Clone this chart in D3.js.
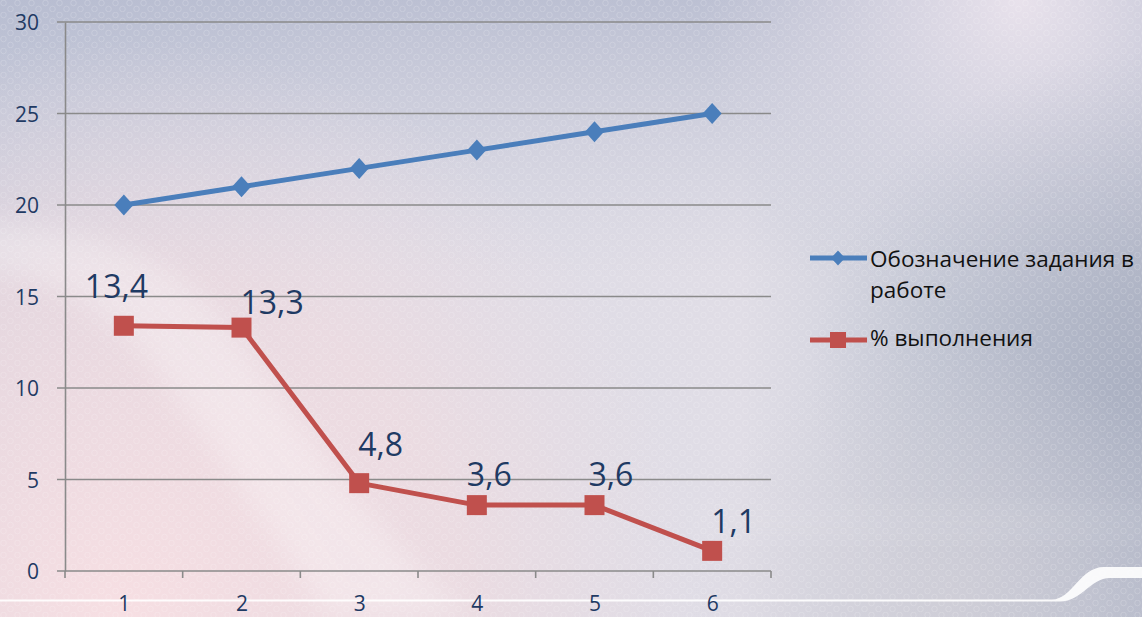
<!DOCTYPE html>
<html>
<head>
<meta charset="utf-8">
<script src="https://cdn.jsdelivr.net/npm/d3@7"></script>
<style>
  html, body { margin: 0; padding: 0; overflow: hidden; background: #d6d6e0; }
  svg { display: block; }
</style>
</head>
<body>
<svg id="chart" width="1142" height="617"></svg>
<script>
// ---- data ----
const categories = ["1", "2", "3", "4", "5", "6"];
const taskDesignation = [20, 21, 22, 23, 24, 25];
const completionPct = [13.4, 13.3, 4.8, 3.6, 3.6, 1.1];
const yTicks = [0, 5, 10, 15, 20, 25, 30];
const seriesNames = ["Обозначение задания в работе", "% выполнения"];

// hand-placed offsets of the value labels from their markers: [dx to text start, dy to baseline]
const labelNudges = [[-39, -28], [-1, -14], [-1, -27], [-10, -19], [-6, -19], [-1, -18]];

// ---- layout ----
const W = 1142, H = 617;
const plot = { left: 65, right: 771, top: 22, bottom: 571 };
const blue = "#4a7ebb", red = "#c0504d", grid = "#8a8a8a", navy = "#1f3a63";
const font = "'Open Sans', 'DejaVu Sans', sans-serif";

const svg = d3.select("#chart");
const defs = svg.append("defs");

function linGrad(id, x1, y1, x2, y2, stops) {
  const g = defs.append("linearGradient").attr("id", id)
    .attr("x1", x1).attr("y1", y1).attr("x2", x2).attr("y2", y2);
  stops.forEach(s => g.append("stop").attr("offset", s[0]).attr("stop-color", s[1]).attr("stop-opacity", s[2] ?? 1));
}
function radGrad(id, cx, cy, r, stops) {
  const g = defs.append("radialGradient").attr("id", id).attr("gradientUnits", "userSpaceOnUse")
    .attr("cx", cx).attr("cy", cy).attr("r", r);
  stops.forEach(s => g.append("stop").attr("offset", s[0]).attr("stop-color", s[1]).attr("stop-opacity", s[2] ?? 1));
}

// ---- slide background ----
linGrad("bgBase", 0, 0, 1, 0, [
  [0, "#cbcedd"], [0.3, "#dedbe5"], [0.65, "#e0dde6"], [0.82, "#cacdd9"], [1, "#b6bbcb"]
]);
linGrad("bgTop", 0, 0, 0, 1, [[0, "#b3b9ce", 0.8], [0.45, "#c4c8d8", 0]]);
radGrad("bgPink", 120, 617, 580, [[0, "#f7dfe3", 1], [0.6, "#f0dbe0", 0.7], [1, "#ecdde3", 0]]);
radGrad("bgTopRight", 1020, 0, 320, [[0, "#eee6ef", 0.9], [1, "#e6e0ea", 0]]);
radGrad("bgRight", 1142, 380, 330, [[0, "#a7adbf", 0.85], [1, "#b4b9c9", 0]]);
radGrad("bgBottomRight", 950, 600, 260, [[0, "#d3d0d8", 0.7], [1, "#d3d0d8", 0]]);

const pat = defs.append("pattern").attr("id", "dots").attr("patternUnits", "userSpaceOnUse")
  .attr("width", 14).attr("height", 12);
pat.append("circle").attr("cx", 3.5).attr("cy", 3).attr("r", 2.8)
  .attr("fill", "none").attr("stroke", "#ffffff").attr("stroke-width", 1).attr("stroke-opacity", 0.16);
pat.append("circle").attr("cx", 10.5).attr("cy", 9).attr("r", 2.8)
  .attr("fill", "none").attr("stroke", "#ffffff").attr("stroke-width", 1).attr("stroke-opacity", 0.16);

defs.append("filter").attr("id", "soft").attr("x", "-20%").attr("y", "-20%").attr("width", "140%").attr("height", "140%")
  .append("feGaussianBlur").attr("stdDeviation", 14);

const bg = svg.append("g").attr("class", "background");
bg.append("rect").attr("width", W).attr("height", H).attr("fill", "url(#bgBase)");
bg.append("rect").attr("width", W).attr("height", H).attr("fill", "url(#bgTop)");
bg.append("rect").attr("width", W).attr("height", H).attr("fill", "url(#bgTopRight)");
bg.append("rect").attr("width", W).attr("height", H).attr("fill", "url(#bgRight)");
bg.append("rect").attr("width", W).attr("height", H).attr("fill", "url(#bgPink)");
bg.append("rect").attr("width", W).attr("height", H).attr("fill", "url(#bgBottomRight)");
// pale sweeping band across the lower left
bg.append("path")
  .attr("d", "M-40,225 C80,222 170,250 230,330 C290,410 360,520 470,617 L330,617 C260,520 200,420 140,350 C90,295 30,270 -40,268 Z")
  .attr("fill", "#ffffff").attr("opacity", 0.28).attr("filter", "url(#soft)");
// faint light strip on the right
bg.append("rect").attr("x", 700).attr("y", 506).attr("width", 460).attr("height", 34)
  .attr("fill", "#ffffff").attr("opacity", 0.06).attr("filter", "url(#soft)");
bg.append("rect").attr("width", W).attr("height", H).attr("fill", "url(#dots)");
// white rule along the bottom rising into a bar on the right
bg.append("path")
  .attr("d", "M0,599.5 L1052,599.5 C1072,599.5 1080,567 1104,567 L1142,567 L1142,578 L1110,578 C1090,578 1082,601.5 1060,601.5 L0,601.5 Z")
  .attr("fill", "#ffffff").attr("opacity", 0.9);

// ---- scales ----
const x = d3.scalePoint().domain(categories).range([plot.left, plot.right]).padding(0.5);
const band = d3.scaleBand().domain(categories).range([plot.left, plot.right]);
const y = d3.scaleLinear().domain([0, 30]).range([plot.bottom, plot.top]);

// ---- gridlines & axes ----
const chart = svg.append("g");
chart.append("g").selectAll("line").data(yTicks).join("line")
  .attr("x1", plot.left - 8).attr("x2", plot.right)
  .attr("y1", d => y(d)).attr("y2", d => y(d))
  .attr("stroke", grid).attr("stroke-width", 1.6);

const yAxis = chart.append("g").attr("transform", `translate(${plot.left},0)`)
  .call(d3.axisLeft(y).tickValues(yTicks).tickSize(0).tickPadding(26).tickFormat(d3.format("d")));
yAxis.select(".domain").attr("stroke", grid).attr("stroke-width", 1.6);
yAxis.selectAll("text").attr("fill", navy).attr("font-family", font).attr("font-size", 21).attr("dy", "0.36em");

const boundaries = categories.map(c => band(c)).concat([plot.right]);
chart.append("g").selectAll("line").data(boundaries).join("line")
  .attr("x1", d => d).attr("x2", d => d)
  .attr("y1", plot.bottom).attr("y2", plot.bottom + 7)
  .attr("stroke", grid).attr("stroke-width", 1.6);

const xAxis = chart.append("g").attr("transform", `translate(0,${plot.bottom})`)
  .call(d3.axisBottom(x).tickSize(0).tickPadding(0));
xAxis.select(".domain").remove();
xAxis.selectAll("text").attr("fill", navy).attr("font-family", font).attr("font-size", 21)
  .attr("y", 40).attr("dy", 0);

// ---- series ----
const line = d3.line().x((d, i) => x(categories[i])).y(d => y(d));
const diamond = "M0,-10.5L9.5,0L0,10.5L-9.5,0Z";

chart.append("path").datum(taskDesignation).attr("d", line)
  .attr("fill", "none").attr("stroke", blue).attr("stroke-width", 5).attr("stroke-linejoin", "round");
chart.append("g").selectAll("path").data(taskDesignation).join("path")
  .attr("d", diamond)
  .attr("transform", (d, i) => `translate(${x(categories[i])},${y(d)})`)
  .attr("fill", blue);

chart.append("path").datum(completionPct).attr("d", line)
  .attr("fill", "none").attr("stroke", red).attr("stroke-width", 5).attr("stroke-linejoin", "round");
chart.append("g").selectAll("rect").data(completionPct).join("rect")
  .attr("x", (d, i) => x(categories[i]) - 10).attr("y", d => y(d) - 10)
  .attr("width", 20).attr("height", 20).attr("fill", red);

// value labels with a decimal comma
const ru = d3.formatLocale({ decimal: ",", thousands: "\u00a0", grouping: [3], currency: ["", " ₽"] });
const fmt = ru.format(".1f");
chart.append("g").selectAll("text").data(completionPct).join("text")
  .attr("x", (d, i) => x(categories[i]) + labelNudges[i][0])
  .attr("y", (d, i) => y(d) + labelNudges[i][1])
  .attr("fill", navy).attr("font-family", font).attr("font-size", 32)
  .text(d => fmt(d));

// ---- legend ----
const legend = svg.append("g").attr("font-family", font).attr("font-size", 22.5).attr("fill", "#111");
const lx0 = 810, lx1 = 867, lmx = 838, tx = 870;
// blue entry
legend.append("line").attr("x1", lx0).attr("x2", lx1).attr("y1", 258).attr("y2", 258)
  .attr("stroke", blue).attr("stroke-width", 5);
legend.append("path").attr("d", "M0,-7.5L7,0L0,7.5L-7,0Z").attr("transform", `translate(${lmx},258)`).attr("fill", blue);
const words = seriesNames[0].split(" ");
const t1 = legend.append("text").attr("x", tx).attr("y", 267);
t1.append("tspan").attr("x", tx).text(words.slice(0, 3).join(" "));
t1.append("tspan").attr("x", tx).attr("dy", 31).text(words.slice(3).join(" "));
// red entry
legend.append("line").attr("x1", lx0).attr("x2", lx1).attr("y1", 340).attr("y2", 340)
  .attr("stroke", red).attr("stroke-width", 5);
legend.append("rect").attr("x", lmx - 8).attr("y", 332).attr("width", 16).attr("height", 16).attr("fill", red);
legend.append("text").attr("x", tx).attr("y", 346).text(seriesNames[1]);
</script>
</body>
</html>
